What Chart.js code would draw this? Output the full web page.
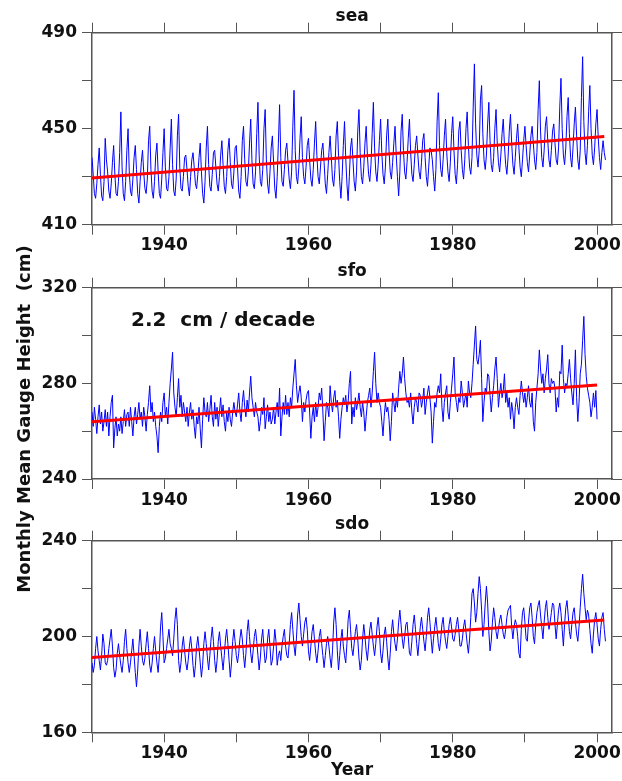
<!DOCTYPE html>
<html>
<head>
<meta charset="utf-8">
<script src="https://cdn.jsdelivr.net/npm/chart.js@4.4.1/dist/chart.umd.min.js"></script>
<style>
  body { margin: 0; background: #fff; }
  #wrap { position: relative; width: 622px; height: 781px; overflow: hidden; }
  canvas { position: absolute; left: 0; }
  #ylab {
    position: absolute; left: -177px; top: 409px; width: 400px; height: 20px;
    line-height: 20px; text-align: center; transform: rotate(-90deg);
    font: bold 18px "DejaVu Sans", sans-serif; color: #111; white-space: pre;
  }
</style>
</head>
<body>
<div id="wrap">
  <canvas id="sea" width="622" height="262" style="top:0px"></canvas>
  <canvas id="sfo" width="622" height="260" style="top:255px"></canvas>
  <canvas id="sdo" width="622" height="273" style="top:508px"></canvas>
  <div id="ylab">Monthly Mean Gauge Height  (cm)</div>
</div>
<script>
// bi-monthly readings (Jan, Mar, May, Jul, Sep, Nov) starting Jan 1930
const startYear = 1930;
const perYear = 6;
const xTickLabels = [1940, 1960, 1980, 2000];

const seaHeight = [
  438, 431, 423, 421, 427, 435,
  442, 431, 422, 420, 428, 446,
  437, 432, 424, 421, 427, 436,
  443, 431, 423, 422, 428, 440,
  457, 434, 423, 420, 428, 441,
  450, 432, 424, 422, 429, 438,
  443, 433, 423, 419, 428, 436,
  441, 432, 425, 423, 429, 445,
  451, 433, 424, 421, 428, 439,
  444, 432, 423, 421, 429, 440,
  450, 434, 425, 424, 430, 442,
  454, 435, 424, 422, 429, 447,
  456, 434, 425, 424, 430, 438,
  439, 433, 426, 422, 430, 437,
  440, 434, 427, 425, 431, 438,
  444, 432, 423, 419, 428, 442,
  451, 435, 426, 424, 431, 440,
  441, 434, 427, 424, 430, 439,
  445, 435, 426, 423, 430, 441,
  446, 436, 427, 425, 432, 442,
  443, 434, 424, 421, 430, 445,
  451, 437, 428, 426, 432, 444,
  454, 437, 427, 425, 432, 448,
  461, 439, 428, 426, 433, 450,
  458, 437, 427, 423, 432, 442,
  447, 436, 425, 421, 430, 444,
  460, 438, 428, 426, 433, 441,
  444, 436, 429, 425, 432, 451,
  466, 441, 430, 427, 434, 446,
  455, 438, 430, 427, 434, 443,
  446, 437, 429, 426, 433, 444,
  453, 439, 430, 427, 434, 441,
  444, 436, 427, 423, 431, 440,
  447, 438, 429, 426, 433, 447,
  453, 439, 428, 421, 430, 443,
  453, 438, 427, 420, 430, 442,
  446, 437, 428, 424, 432, 449,
  458, 440, 430, 427, 434, 444,
  451, 439, 431, 428, 435, 448,
  461, 442, 432, 428, 435, 445,
  454, 440, 431, 427, 434, 447,
  454, 441, 432, 429, 436, 444,
  451, 439, 430, 422, 432, 449,
  456, 441, 432, 429, 436, 446,
  454, 440, 431, 428, 435, 443,
  447, 439, 432, 429, 436, 445,
  448, 438, 430, 426, 434, 442,
  441, 437, 430, 424, 433, 453,
  465, 443, 433, 430, 437, 447,
  454, 440, 432, 428, 436, 448,
  455, 441, 431, 427, 435, 449,
  453, 441, 433, 429, 437, 450,
  457, 443, 434, 431, 438, 459,
  477, 452, 439, 434, 441, 462,
  468, 448, 437, 433, 439, 452,
  461, 445, 435, 432, 438, 450,
  458, 444, 436, 432, 439, 448,
  454, 443, 435, 431, 438, 449,
  456, 444, 435, 431, 438, 446,
  452, 442, 434, 430, 437, 445,
  451, 443, 436, 432, 439, 447,
  451, 444, 437, 433, 440, 458,
  470, 449, 438, 434, 441, 451,
  455, 445, 437, 434, 441, 449,
  452, 444, 437, 435, 442, 459,
  471, 450, 439, 435, 442, 455,
  463, 448, 438, 434, 442, 452,
  459, 447, 437, 433, 441, 463,
  480, 453, 440, 435, 443, 457,
  468, 450, 439, 435, 442, 452,
  458, 446, 438, 433, 440, 445,
  440, 437,
];

const sfoHeight = [
  268, 262, 270, 265, 259, 266,
  271, 263, 268, 260, 264, 269,
  262, 268, 258, 266, 272, 275,
  253, 261, 266, 258, 263, 260,
  266, 259, 264, 269, 262, 267,
  268, 262, 270, 264, 258, 266,
  270, 263, 267, 272, 265, 268,
  262, 270, 266, 260, 267, 272,
  279, 268, 272, 264, 268, 262,
  258, 251, 262, 268, 264, 272,
  276, 266, 270, 263, 272, 280,
  286, 293, 276, 270, 266, 274,
  282, 270, 275, 266, 272, 268,
  264, 270, 262, 268, 272, 265,
  269, 262, 257, 266, 263, 270,
  261, 253, 265, 274, 268, 266,
  272, 264, 269, 275, 266, 262,
  272, 265, 270, 262, 268, 274,
  266, 271, 264, 260, 268, 264,
  270, 265, 262, 268, 272, 268,
  266, 271, 276, 268, 264, 272,
  277, 270, 266, 273, 268, 276,
  283, 274, 270, 266, 272, 268,
  266, 260, 264, 270, 267, 274,
  261, 266, 271, 264, 268, 263,
  265, 270, 263, 268, 272, 266,
  278, 258, 266, 272, 267, 275,
  267, 272, 266, 274, 270, 278,
  284, 290, 279, 272, 276, 279,
  274, 264, 272, 268, 273, 276,
  277, 268, 257, 266, 270, 264,
  272, 266, 270, 276, 273, 278,
  268, 256, 264, 272, 270, 266,
  279, 272, 268, 274, 277, 270,
  273, 266, 257, 265, 270, 274,
  271, 275, 268, 272, 280, 285,
  263, 270, 266, 274, 269, 272,
  276, 270, 266, 272, 268, 260,
  266, 272, 275, 278, 270, 276,
  285, 293, 280, 272, 276, 272,
  270, 264, 258, 266, 272, 268,
  270, 265, 256, 264, 276, 272,
  268, 274, 270, 278, 285, 280,
  284, 291, 282, 276, 272, 273,
  270, 276, 268, 263, 270, 274,
  272, 268, 276, 275, 270, 273,
  278, 267, 272, 276, 279, 274,
  268, 255, 264, 272, 270, 276,
  279, 276, 284, 270, 264, 272,
  276, 279, 268, 265, 272, 278,
  284, 291, 276, 272, 268, 274,
  272, 281, 276, 270, 273, 276,
  270, 281, 276, 274, 280, 288,
  296, 304, 290, 288, 292, 298,
  282, 264, 272, 278, 276, 284,
  283, 275, 268, 274, 279, 286,
  291, 282, 270, 276, 280, 274,
  277, 284, 272, 276, 270, 274,
  265, 272, 268, 261, 270, 274,
  270, 267, 275, 281, 276, 272,
  276, 270, 274, 279, 272, 270,
  276, 264, 260, 272, 278, 284,
  294, 286, 280, 284, 276, 282,
  286, 292, 280, 276, 282, 280,
  281, 278, 268, 274, 270, 285,
  284, 296, 282, 276, 280, 279,
  284, 290, 282, 276, 271, 280,
  294, 274, 264, 272, 284, 288,
  298, 308, 292, 283, 278, 275,
  272, 266, 270, 276, 270, 277,
  265,
];

const sdoHeight = [
  189, 185, 188, 195, 200, 194,
  190, 186, 192, 201, 197, 189,
  188, 190, 195, 199, 203, 196,
  187, 183, 186, 193, 197, 192,
  188, 185, 190, 198, 203, 195,
  189, 185, 189, 194, 199, 192,
  185, 179, 186, 196, 203, 196,
  190, 188, 191, 197, 202, 195,
  188, 185, 189, 195, 200, 194,
  189, 185, 192, 204, 210, 200,
  189, 191, 195, 199, 203, 197,
  195, 192, 199, 207, 212, 205,
  190, 185, 189, 196, 200, 194,
  189, 186, 190, 196, 200, 195,
  188, 183, 188, 196, 200, 195,
  189, 183, 188, 197, 202, 197,
  191, 186, 192, 199, 204, 198,
  190, 185, 190, 198, 202, 196,
  191, 186, 192, 199, 203, 197,
  190, 183, 189, 198, 203, 198,
  192, 189, 193, 199, 203, 199,
  192, 187, 193, 202, 207, 200,
  193, 189, 194, 200, 203, 198,
  192, 186, 191, 199, 203, 195,
  189, 191, 199, 203, 196, 188,
  190, 196, 203, 198, 188, 192,
  194, 190, 196, 200, 203, 196,
  192, 191, 197, 205, 210, 203,
  196, 192, 199, 209, 214, 207,
  200, 196, 201, 206, 208, 203,
  194, 190, 196, 202, 205, 199,
  193, 189, 194, 200, 203, 197,
  192, 187, 192, 197, 200, 196,
  191, 187, 194, 206, 212, 205,
  194, 186, 192, 199, 203, 196,
  192, 189, 197, 207, 211, 203,
  195, 192, 197, 202, 205, 199,
  191, 186, 190, 199, 205, 200,
  194, 190, 196, 203, 206, 201,
  196, 192, 197, 204, 208, 202,
  193, 189, 194, 201, 204, 198,
  191, 186, 193, 202, 207, 201,
  197, 194, 199, 206, 211, 205,
  199, 195, 200, 205, 206, 200,
  193, 192, 198, 205, 209, 203,
  197, 192, 198, 204, 208, 203,
  198, 194, 200, 208, 212, 206,
  199, 193, 199, 204, 208, 203,
  197, 194, 199, 205, 208, 202,
  198, 195, 200, 205, 208, 204,
  199, 198, 201, 205, 208, 203,
  196, 196, 199, 204, 207, 202,
  197, 193, 199, 208, 218, 220,
  214, 206, 210, 218, 225, 220,
  211, 200, 205, 214, 221, 214,
  202, 194, 198, 206, 212, 208,
  202, 199, 203, 207, 209, 205,
  201, 199, 203, 208, 211, 212,
  213, 204, 199, 204, 207, 205,
  200, 193, 191, 203, 210, 212,
  206, 199, 198, 206, 212, 214,
  208, 200, 197, 205, 210, 213,
  215, 209, 204, 199, 206, 212,
  215, 208, 203, 206, 210, 214,
  213, 205, 199, 205, 211, 214,
  210, 203, 196, 205, 212, 215,
  209, 202, 199, 205, 210, 212,
  206, 201, 198, 204, 212, 220,
  226, 218, 212, 207, 211, 209,
  203, 197, 193, 201, 207, 210,
  205, 199, 196, 203, 208, 210,
  203, 198,
];

// linear trend end points
const seaTrendYears = [1930, 2001];
const seaTrend = [429.5, 446.7];
const sfoTrendYears = [1930, 2000];
const sfoTrend = [263.9, 279.3];
const sdoTrendYears = [1930, 2001];
const sdoTrend = [191.2, 206.9];

const seaYTicks = [410, 450, 490];
const sfoYTicks = [240, 280, 320];
const sdoYTicks = [160, 200, 240];

const labelFont = { family: "'DejaVu Sans', sans-serif", weight: "bold", size: 17 };
const axisColor = "#555";
const textColor = "#111";

// panel name above the frame, optional note inside it
const panelText = {
  id: "panelText",
  afterDraw(chart, args, opts) {
    const { ctx, chartArea } = chart;
    ctx.save();
    ctx.fillStyle = textColor;
    ctx.font = "bold 17px 'DejaVu Sans'";
    ctx.textAlign = "center";
    ctx.textBaseline = "alphabetic";
    ctx.fillText(opts.title, (chartArea.left + chartArea.right) / 2, chartArea.top - 12);
    if (opts.note) {
      ctx.font = "bold 20px 'DejaVu Sans'";
      ctx.textAlign = "left";
      ctx.fillText(opts.note, chartArea.left + 39, chartArea.top + 38);
    }
    ctx.restore();
  },
};

function xAxis(position, size, showLabels, title) {
  return {
    type: "linear",
    position: position,
    min: 1930,
    max: 2002.1,
    ticks: {
      stepSize: 10,
      includeBounds: false,
      autoSkip: false,
      maxRotation: 0,
      padding: 1,
      color: textColor,
      font: labelFont,
      callback: (v) => (showLabels && xTickLabels.includes(v) ? String(v) : ""),
    },
    grid: { drawOnChartArea: false, tickLength: 10, color: axisColor },
    border: { color: axisColor, width: 1.5 },
    title: title
      ? { display: true, text: title, color: textColor, font: labelFont, padding: 0 }
      : { display: false },
    afterFit: (s) => {
      s.height = size;
    },
  };
}

function yAxis(position, size, min, max, labels) {
  return {
    type: "linear",
    position: position,
    min: min,
    max: max,
    ticks: {
      stepSize: 20,
      autoSkip: false,
      padding: 5,
      color: textColor,
      font: labelFont,
      callback: (v) => (labels.includes(v) ? String(v) : ""),
    },
    grid: { drawOnChartArea: false, tickLength: 10, color: axisColor },
    border: { color: axisColor, width: 1.5 },
    afterFit: (s) => {
      s.width = size;
    },
  };
}

function makePanel(id, title, values, trendYears, trend, yTicks, layout, note, xTitle) {
  const points = values.map((v, i) => ({ x: startYear + i / perYear, y: v }));
  const trendPoints = trend.map((v, i) => ({ x: trendYears[i], y: v }));
  const yMin = yTicks[0];
  const yMax = yTicks[yTicks.length - 1];

  new Chart(document.getElementById(id), {
    type: "line",
    data: {
      datasets: [
        { data: trendPoints, borderColor: "#ff0000", borderWidth: 3, order: 0 },
        { data: points, borderColor: "#0000ff", borderWidth: 1, order: 1 },
      ],
    },
    options: {
      responsive: false,
      animation: false,
      events: [],
      layout: { padding: 0 },
      elements: { point: { radius: 0 }, line: { tension: 0 } },
      plugins: {
        legend: { display: false },
        tooltip: { enabled: false },
        panelText: { title: title, note: note },
      },
      scales: {
        x: xAxis("bottom", layout.bottom, true, xTitle),
        x2: xAxis("top", layout.top, false),
        y: yAxis("left", 92, yMin, yMax, yTicks),
        y2: yAxis("right", 9.3, yMin, yMax, []),
      },
    },
    plugins: [panelText],
  });
}

makePanel("sea", "sea", seaHeight, seaTrendYears, seaTrend, seaYTicks, { top: 32.7, bottom: 37.3 });
makePanel("sfo", "sfo", sfoHeight, sfoTrendYears, sfoTrend, sfoYTicks, { top: 32.7, bottom: 36 }, "2.2  cm / decade");
makePanel("sdo", "sdo", sdoHeight, sdoTrendYears, sdoTrend, sdoYTicks, { top: 32.7, bottom: 48.7 }, null, "Year");
</script>
</body>
</html>
